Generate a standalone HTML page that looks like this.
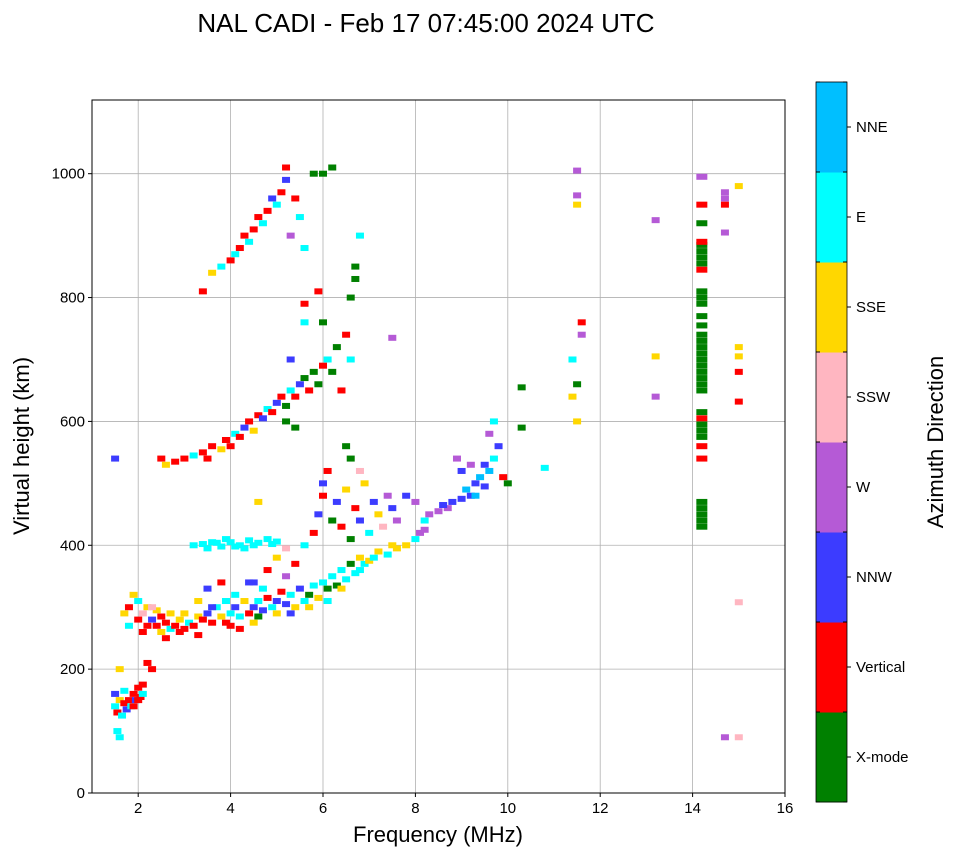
<!DOCTYPE html>
<html><head><meta charset="utf-8"><style>
body{margin:0;background:#fff;font-family:"Liberation Sans","DejaVu Sans",sans-serif}
svg text{font-family:"Liberation Sans","DejaVu Sans",sans-serif}
</style></head><body>
<svg id="chart" width="958" height="857" viewBox="0 0 958 857">
<text x="426" y="32" font-size="26" text-anchor="middle">NAL CADI - Feb 17 07:45:00 2024 UTC</text>
<g id="grid"></g>
<g id="marks"></g>
<rect x="92" y="100" width="693" height="693" fill="none" stroke="#000" stroke-width="1"/>
<g id="axes"></g>
<text x="438" y="842" font-size="22" text-anchor="middle">Frequency (MHz)</text>
<text transform="translate(29,446) rotate(-90)" font-size="22" text-anchor="middle">Virtual height (km)</text>
<g id="cbar"></g>
<text transform="translate(943,442) rotate(-90)" font-size="22" text-anchor="middle">Azimuth Direction</text>
</svg>
<script>
const xTicks=[2,4,6,8,10,12,14,16];
const yTicks=[0,200,400,600,800,1000];
const dirNames=["X-mode","Vertical","NNW","W","SSW","SSE","E","NNE"];
const dirColors=["#008000","#ff0000","#3c3cff","#b55ad6","#ffb6c1","#ffd700","#00ffff","#00bfff"];
const echoes=[
[1.5,140,6],[1.55,130,1],[1.6,150,5],[1.65,125,6],[1.7,145,1],[1.75,135,2],[1.8,150,1],[1.85,140,6],[1.9,160,1],[1.95,150,2],[2.0,170,1],[2.05,155,1],[2.1,175,1],[2.1,160,6],[1.55,100,6],[1.6,90,6],[1.5,160,2],[2.2,210,1],[2.3,200,1],[1.6,200,5],[1.7,165,6],[1.9,140,1],[2.0,150,1],
[1.7,290,5],[1.8,300,1],[1.9,320,5],[2.0,280,1],[2.0,310,6],[2.1,290,4],[2.2,270,1],[2.2,300,5],[2.3,280,2],[2.4,270,1],[2.4,295,5],[2.5,285,1],[2.5,260,5],[2.6,275,1],[2.7,265,6],[2.7,290,5],[2.8,270,1],[2.9,260,1],[2.9,280,5],[3.0,265,1],[3.1,275,6],[3.2,270,1],[3.3,285,5],[3.4,280,1],[3.5,290,2],[3.6,275,1],[3.7,300,6],[3.8,285,5],[3.9,275,1],[4.0,290,6],[4.0,270,1],[4.1,300,2],[4.2,285,6],[4.3,310,5],[4.4,290,1],[4.5,300,2],[4.5,275,5],[4.6,310,6],[4.7,295,2],[4.8,315,1],[4.9,300,6],[5.0,310,2],[5.1,325,1],[5.2,305,2],[5.3,320,6],[5.4,300,5],[5.5,330,2],[5.6,310,6],[5.7,320,0],[5.8,335,6],[5.9,315,5],[6.0,340,6],[6.1,330,0],[6.2,350,6],[6.3,335,0],[6.4,360,6],[6.5,345,6],[6.6,370,0],[6.7,355,6],[6.8,380,5],[6.9,370,6],[7.0,375,5],[7.2,390,5],[7.4,385,6],[7.5,400,5],[7.6,395,5],[7.8,400,5],[8.0,410,6],[8.1,420,3],[8.2,440,6],[8.3,450,3],[8.5,455,3],[8.7,460,3],[8.8,470,2],[9.0,475,2],[9.1,490,7],[9.2,480,2],[9.3,500,2],[9.4,510,7],[9.5,495,2],[9.6,520,7],[9.7,540,6],[9.8,560,2],[9.7,600,6],[9.6,580,3],[9.9,510,1],[10.0,500,0],[9.0,520,2],[9.2,530,3],[8.9,540,3],
[1.8,270,6],[2.1,260,1],[2.3,300,4],[2.6,250,1],[3.0,290,5],[3.3,255,1],[3.6,300,2],[3.9,310,6],[4.2,265,1],[4.6,285,0],[5.0,290,5],[5.3,290,2],[5.7,300,5],[6.1,310,6],[6.4,330,5],[6.8,360,6],[7.1,380,6],[8.2,425,3],[8.6,465,2],[9.3,480,7],[9.5,530,2],
[4.5,340,2],[4.8,360,1],[5.0,380,5],[5.2,350,3],[5.4,370,1],[5.6,400,6],[5.8,420,1],[5.9,450,2],[6.0,480,1],[6.0,500,2],[6.1,520,1],[6.2,440,0],[6.3,470,2],[6.4,430,1],[6.5,490,5],[6.6,410,0],[6.7,460,1],[6.8,440,2],[6.9,500,5],[7.0,420,6],[7.1,470,2],[7.2,450,5],[7.3,430,4],[7.4,480,3],[7.5,460,2],[7.6,440,3],[7.8,480,2],[8.0,470,3],[6.6,540,0],[6.5,560,0],[6.8,520,4],
[3.2,400,6],[3.4,402,6],[3.6,405,6],[3.8,398,6],[4.0,405,6],[4.2,400,6],[4.4,408,6],[4.6,404,6],[4.8,410,6],[5.0,406,6],[5.2,395,4],[3.5,395,6],[3.9,410,6],[4.3,395,6],[3.7,404,6],[4.1,398,6],[4.5,400,6],[4.9,402,6],
[3.5,330,2],[3.8,340,1],[4.1,320,6],[4.4,340,2],[4.7,330,6],[3.3,310,5],
[2.5,540,1],[2.6,530,5],[2.8,535,1],[3.0,540,1],[3.2,545,6],[3.4,550,1],[3.5,540,1],[3.6,560,1],[3.8,555,5],[3.9,570,1],[4.0,560,1],[4.1,580,6],[4.2,575,1],[4.3,590,2],[4.4,600,1],[4.5,585,5],[4.6,610,1],[4.7,605,2],[4.8,620,6],[4.9,615,1],[5.0,630,2],[5.1,640,1],[5.2,625,0],[5.3,650,6],[5.4,640,1],[5.5,660,2],[5.6,670,0],[5.7,650,1],[5.8,680,0],[5.9,660,0],[6.0,690,1],[6.1,700,6],[6.2,680,0],[6.3,720,0],[6.5,740,1],[6.6,700,6],[6.4,650,1],[5.3,700,2],[5.6,760,6],[5.6,790,1],[5.9,810,1],[6.0,760,0],[5.2,600,0],[5.4,590,0],[6.6,800,0],[6.7,850,0],[6.8,900,6],[6.7,830,0],
[3.4,810,1],[3.6,840,5],[3.8,850,6],[4.0,860,1],[4.1,870,6],[4.2,880,1],[4.3,900,1],[4.4,890,6],[4.5,910,1],[4.6,930,1],[4.7,920,6],[4.8,940,1],[4.9,960,2],[5.0,950,6],[5.1,970,1],[5.2,990,2],[5.2,1010,1],[5.4,960,1],[5.5,930,6],[5.8,1000,0],[6.0,1000,0],[6.2,1010,0],[5.3,900,3],[5.6,880,6],
[14.2,430,0],[14.2,440,0],[14.2,450,0],[14.2,460,0],[14.2,470,0],[14.2,540,1],[14.2,560,1],[14.2,575,0],[14.2,585,0],[14.2,595,0],[14.2,605,1],[14.2,615,0],[14.2,650,0],[14.2,660,0],[14.2,670,0],[14.2,680,0],[14.2,690,0],[14.2,700,0],[14.2,710,0],[14.2,720,0],[14.2,730,0],[14.2,740,0],[14.2,755,0],[14.2,770,0],[14.2,790,0],[14.2,800,0],[14.2,810,0],[14.2,845,1],[14.2,855,0],[14.2,865,0],[14.2,875,0],[14.2,885,0],[14.2,890,1],[14.2,920,0],[14.2,950,1],[14.2,995,3],
[14.7,950,1],[14.7,960,3],[14.7,970,3],[14.7,905,3],[15.0,980,5],[15.0,720,5],[15.0,705,5],[15.0,680,1],[15.0,632,1],[14.7,90,3],[15.0,90,4],
[11.5,1005,3],[11.5,965,3],[11.5,950,5],[13.2,925,3],[11.4,640,5],[11.5,660,0],[11.6,740,3],[11.6,760,1],[11.4,700,6],[13.2,705,5],[13.2,640,3],[11.5,600,5],[10.3,655,0],[10.3,590,0],[10.8,525,6],[1.5,540,2],[7.5,735,3],[15.0,308,4],[4.6,470,5]
];
const NS="http://www.w3.org/2000/svg";
const X0=92,X1=785,Y0=793,Y1=100,FMIN=1,FMAX=16,HMIN=0,HMAX=1119;
function xs(f){return X0+(f-FMIN)/(FMAX-FMIN)*(X1-X0);}
function ys(h){return Y0-(h-HMIN)/(HMAX-HMIN)*(Y0-Y1);}
function mk(tag,attrs,parent){const e=document.createElementNS(NS,tag);for(const k in attrs)e.setAttribute(k,attrs[k]);parent.appendChild(e);return e;}
const grid=document.getElementById('grid'),axes=document.getElementById('axes'),marks=document.getElementById('marks'),cbar=document.getElementById('cbar');
xTicks.forEach(t=>{const x=xs(t);
 const g=mk('line',{x1:x,x2:x,y1:Y1,y2:Y0,stroke:'#b0b0b0','stroke-width':0.8},grid);
 
 
 mk('line',{x1:x,x2:x,y1:Y0,y2:Y0+4,stroke:'#000'},axes);
 const tx=mk('text',{x:x,y:Y0+20,'font-size':15,'text-anchor':'middle'},axes);tx.textContent=t;
 
 
});
yTicks.forEach(t=>{const y=ys(t);
 const g=mk('line',{x1:X0,x2:X1,y1:y,y2:y,stroke:'#b0b0b0','stroke-width':0.8},grid);
 
 
 mk('line',{x1:X0-4,x2:X0,y1:y,y2:y,stroke:'#000'},axes);
 const tx=mk('text',{x:X0-7,y:y+5,'font-size':15,'text-anchor':'end'},axes);tx.textContent=t;
 
 
});
echoes.forEach(d=>{
 const w=d[0]>=14.1&&d[0]<=14.3?11:8;
 const r=mk('rect',{x:xs(d[0])-w/2,y:ys(d[1])-3,width:w,height:6,fill:dirColors[d[2]]},marks);
 
 
});
const CX=816,CW=31,CT=82,CB=802,seg=(CB-CT)/dirNames.length;
dirNames.forEach((n,i)=>{const y=CB-(i+1)*seg;
 const r=mk('rect',{x:CX,y:y,width:CW,height:seg+0.5,fill:dirColors[i]},cbar);
 
 
 const yc=y+seg/2;
 mk('line',{x1:CX+CW,x2:CX+CW+4,y1:yc,y2:yc,stroke:'#000'},cbar);
 const tx=mk('text',{x:CX+CW+9,y:yc+5,'font-size':15},cbar);tx.textContent=n;
 
 
});
for(let i=0;i<=dirNames.length;i++){const y=CT+i*seg;mk('line',{x1:CX+CW-4,x2:CX+CW,y1:y,y2:y,stroke:'#000'},cbar);mk('line',{x1:CX,x2:CX+4,y1:y,y2:y,stroke:'#000'},cbar);}
mk('rect',{x:CX,y:CT,width:CW,height:CB-CT,fill:'none',stroke:'#000','stroke-width':0.8},cbar);
</script>
</body></html>
